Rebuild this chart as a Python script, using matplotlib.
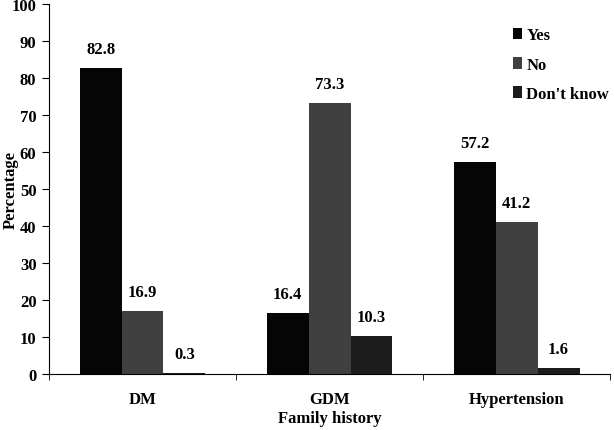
import numpy as np
import matplotlib.pyplot as plt

plt.rcParams['font.family'] = 'Liberation Serif'
plt.rcParams['font.weight'] = 'bold'

categories = ["DM", "GDM", "Hypertension"]
series = ["Yes", "No", "Don't know"]
yes = [82.8, 16.4, 57.2]
no = [16.9, 73.3, 41.2]
dont_know = [0.3, 10.3, 1.6]
colors = ["#050505", "#404040", "#1c1c1c"]

fig = plt.figure(figsize=(6.14, 4.31), dpi=100)
ax = fig.add_axes([0.0798, 0.130, 0.914, 0.858])

x = np.arange(len(categories))
w = 0.224
for i, (vals, name) in enumerate(zip([yes, no, dont_know], series)):
    pos = x + (i - 1) * w
    bars = ax.bar(pos, vals, w, color=colors[i], label=name)
    for b, v in zip(bars, vals):
        ax.text(b.get_x() + b.get_width() / 2, v + 3, f"{v}",
                ha="center", va="bottom", fontsize=12, fontweight="bold")

ax.set_xlim(-0.5, 2.5)
ax.set_ylim(0, 100)
ax.set_yticks(range(0, 101, 10))
ax.set_xticks(x)
ax.set_xticklabels(categories, fontsize=12, fontweight="bold")
ax.set_xticks([-0.5, 0.5, 1.5, 2.5], minor=True)
ax.tick_params(axis="x", which="major", length=0, pad=12)
ax.tick_params(axis="x", which="minor", length=4, direction="out")
ax.tick_params(axis="y", labelsize=12, direction="out", length=5, pad=4)
for t in ax.get_yticklabels():
    t.set_fontweight("bold")
ax.spines["top"].set_visible(False)
ax.spines["right"].set_visible(False)
ax.set_xlabel("Family history", fontsize=12, fontweight="bold")
ax.xaxis.set_label_coords(0.5, -0.098)
ax.set_ylabel("Percentage", fontsize=12, fontweight="bold")
ax.yaxis.set_label_coords(-0.054, 0.5)

ax.legend(loc="upper left", frameon=False, fontsize=12, handlelength=0.55,
          handleheight=0.7, handletextpad=0.25, labelspacing=0.8,
          bbox_to_anchor=(0.815, 0.955), borderaxespad=0)

fig.savefig("out.png", dpi=100)
